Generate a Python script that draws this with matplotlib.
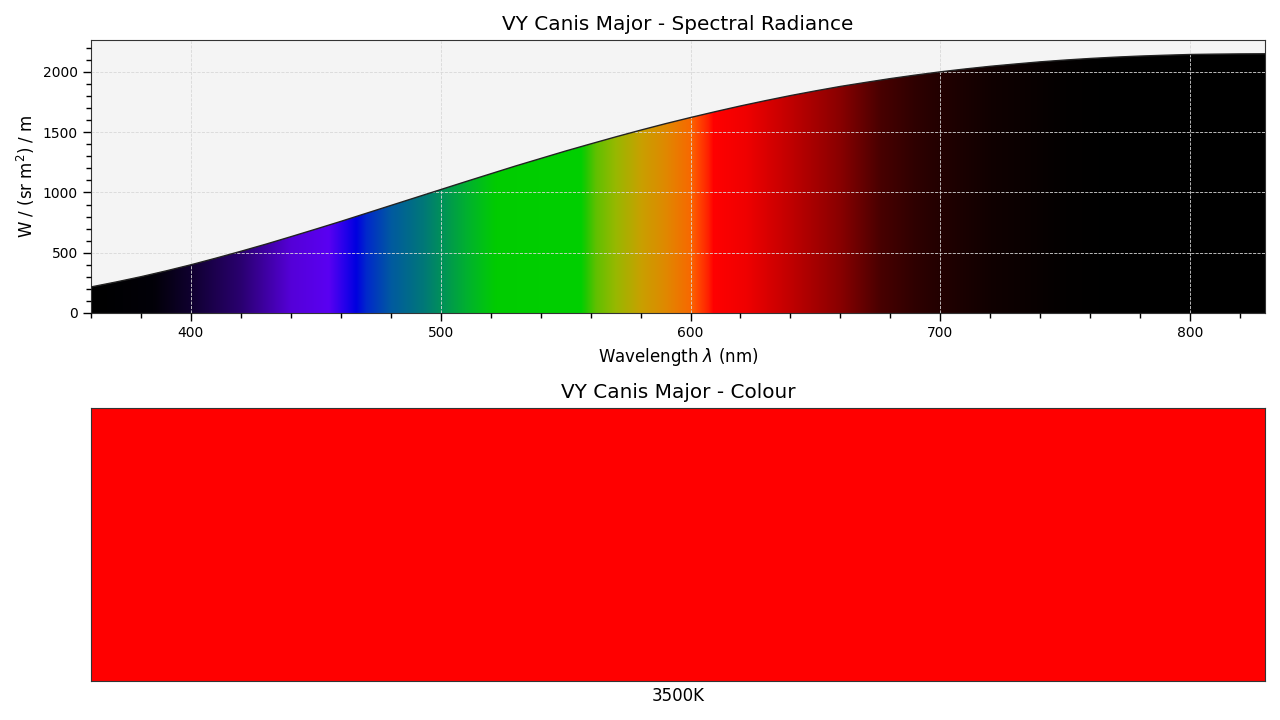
import numpy as np
import matplotlib
matplotlib.use("Agg")
import matplotlib.pyplot as plt
from matplotlib.ticker import MultipleLocator, AutoMinorLocator

# Spectral radiance of a 3500K blackbody (10 nm steps)
wavelengths = [360, 370, 380, 390, 400, 410, 420, 430, 440, 450,
               460, 470, 480, 490, 500, 510, 520, 530, 540, 550,
               560, 570, 580, 590, 600, 610, 620, 630, 640, 650,
               660, 670, 680, 690, 700, 710, 720, 730, 740, 750,
               760, 770, 780, 790, 800, 810, 820, 830]
radiance = [216, 257, 301, 349, 400, 455, 512, 571, 633, 696,
            760, 826, 892, 958, 1024, 1090, 1155, 1220, 1282, 1344,
            1403, 1461, 1517, 1571, 1622, 1671, 1718, 1762, 1804, 1843,
            1880, 1913, 1945, 1974, 2001, 2025, 2047, 2066, 2084, 2099,
            2112, 2123, 2132, 2139, 2145, 2148, 2150, 2151]

# Colour of the spectrum under the curve
stop_nm = [360, 385, 400, 420, 440, 455, 462, 466, 470, 480, 493, 500, 510, 518, 522,
           556, 558, 562, 570, 580, 590, 600, 602, 607, 609, 622, 640, 660, 676,
           690, 700, 720, 750, 770, 830]
stop_rgb = ["#000000", "#020008", "#100030", "#2a0070", "#5500d8", "#5a00f2", "#2000ea",
            "#0000e0", "#0028cc", "#005aa0", "#007878", "#00905a", "#00b030", "#00c410",
            "#00cc00", "#00d000", "#20c800", "#60c000", "#98b800", "#c8a000", "#e08800",
            "#f86800", "#ff5000", "#ff2000", "#ff0000", "#f00000", "#c00000", "#880000",
            "#480000", "#2e0000", "#220000", "#100000", "#030000", "#000000", "#000000"]

title_top = "VY Canis Major - Spectral Radiance"
title_bottom = "VY Canis Major - Colour"
swatch_label = "3500K"
swatch_colour = "#ff0000"

fig = plt.figure(figsize=(12.8, 7.2), dpi=100)
ax1 = fig.add_axes([0.0711, 0.5653, 0.9172, 0.3791])
ax2 = fig.add_axes([0.0711, 0.0542, 0.9172, 0.3791])

# top panel
ax1.set_facecolor("#f4f4f4")
grid_nm = np.linspace(360, 830, 1200)
rgb = np.array([matplotlib.colors.to_rgb(c) for c in stop_rgb])
strip = np.stack([np.interp(grid_nm, stop_nm, rgb[:, k]) for k in range(3)], axis=-1)
img = ax1.imshow(strip[np.newaxis, :, :], aspect="auto", extent=(360, 830, 0, 2265),
                 origin="lower", zorder=1, interpolation="bilinear")
poly = ax1.fill_between(wavelengths, 0, radiance, facecolor="none", edgecolor="none")
clip = poly.get_paths()[0]
img.set_clip_path(clip, transform=ax1.transData)
ax1.plot(wavelengths, radiance, color="#222222", linewidth=1, zorder=3)

ax1.set_xlim(360, 830)
ax1.set_ylim(0, 2265)
ax1.xaxis.set_major_locator(MultipleLocator(100))
ax1.xaxis.set_minor_locator(AutoMinorLocator(5))
ax1.yaxis.set_major_locator(MultipleLocator(500))
ax1.yaxis.set_minor_locator(AutoMinorLocator(5))
ax1.tick_params(which="major", length=6, width=1, labelsize=10)
ax1.tick_params(which="minor", length=3.5, width=1)
ax1.grid(True, which="major", linestyle="--", linewidth=0.6, color="#d8d8d8", zorder=2)
ax1.set_axisbelow(False)
for s in ax1.spines.values():
    s.set_color("#333333")
ax1.set_title(title_top, fontsize=14.4, pad=7)
ax1.set_xlabel(r"Wavelength $\lambda$ (nm)", fontsize=12)
ax1.set_ylabel(r"W / (sr m$^2$) / m", fontsize=12)

# bottom panel: colour swatch
ax2.bar([0], [1], width=1, color=swatch_colour)
ax2.set_xlim(-0.5, 0.5)
ax2.set_ylim(0, 1)
ax2.set_xticks([])
ax2.set_yticks([])
for s in ax2.spines.values():
    s.set_color("#333333")
ax2.set_title(title_bottom, fontsize=14.4, pad=7)
ax2.set_xlabel(swatch_label, fontsize=12, labelpad=4)

fig.savefig("out.png", dpi=100)
